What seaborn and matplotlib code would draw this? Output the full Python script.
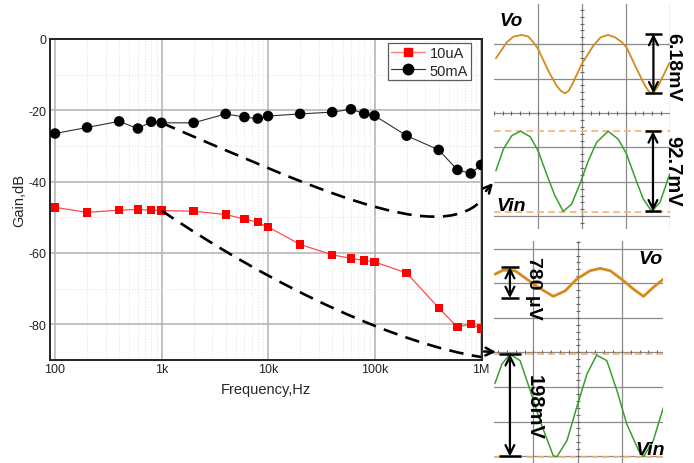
import numpy as np
import pandas as pd
import matplotlib
matplotlib.use("Agg")
import matplotlib.pyplot as plt
import seaborn as sns
from matplotlib.lines import Line2D
from matplotlib.path import Path
from matplotlib.patches import PathPatch, FancyArrowPatch

# ---------------- data ----------------
freq_hz = [100, 200, 400, 600, 800, 1e3, 2e3, 4e3, 6e3, 8e3, 1e4, 2e4, 4e4, 6e4, 8e4,
           1e5, 2e5, 4e5, 6e5, 8e5, 1e6]
gain_10uA = [-47.2, -48.6, -48.0, -47.8, -48.0, -48.1, -48.3, -49.2, -50.5, -51.4, -52.7,
             -57.6, -60.5, -61.5, -62.1, -62.5, -65.6, -75.4, -80.8, -79.9, -81.2]
gain_50mA = [-26.5, -24.8, -23.1, -25.1, -23.2, -23.5, -23.5, -21.0, -21.9, -22.3, -21.6,
             -21.0, -20.5, -19.7, -20.9, -21.5, -27.1, -31.1, -36.7, -37.7, -35.3]
series_names = ["10uA", "50mA"]
x_ticks = [100, 1e3, 1e4, 1e5, 1e6]
x_tick_labels = ["100", "1k", "10k", "100k", "1M"]
y_ticks = [0, -20, -40, -60, -80]
y_tick_labels = ["0", "-20", "-40", "-60", "-80"]

# oscilloscope traces, in screen divisions
top_vo_x = [0.05, 0.30, 0.45, 0.64, 0.79, 0.90, 1.01, 1.24, 1.43, 1.53, 1.62, 1.70, 1.77, 2.00,
            2.26, 2.43, 2.60, 2.76, 2.91, 3.02, 3.25, 3.44, 3.52, 3.58, 3.66, 3.74, 4.00]
top_vo_y = [1.59, 2.06, 2.22, 2.27, 2.22, 2.06, 1.86, 1.23, 0.79, 0.64, 0.57, 0.64, 0.79, 1.42,
            1.95, 2.20, 2.27, 2.20, 2.06, 1.91, 1.28, 0.79, 0.64, 0.57, 0.64, 0.79, 1.47]
top_vin_x = [0.05, 0.22, 0.41, 0.61, 0.83, 1.01, 1.20, 1.39, 1.58, 1.77, 1.96, 2.15, 2.34,
             2.60, 2.83, 3.02, 3.21, 3.40, 3.59, 3.78, 4.00]
top_vin_y = [-1.68, -1.05, -0.66, -0.53, -0.69, -1.10, -1.77, -2.40, -2.86, -2.65, -2.06,
             -1.39, -0.85, -0.53, -0.76, -1.19, -1.87, -2.50, -2.86, -2.60, -1.77]
bot_vo_x = [0.13, 0.32, 0.59, 0.85, 1.11, 1.45, 1.72, 1.98, 2.28, 2.51, 2.74, 3.04, 3.26,
            3.49, 3.71, 3.94]
bot_vo_y = [2.26, 2.38, 2.36, 2.12, 1.88, 1.62, 1.78, 2.12, 2.36, 2.43, 2.36, 2.07, 1.83,
            1.62, 1.88, 2.12]
bot_vin_x = [0.13, 0.29, 0.47, 0.70, 0.93, 1.15, 1.45, 1.53, 1.76, 1.98, 2.21, 2.43, 2.66,
             2.89, 3.11, 3.38, 3.49, 3.71, 3.94]
bot_vin_y = [-0.90, -0.34, -0.05, -0.24, -1.11, -1.98, -2.99, -3.02, -2.55, -1.59, -0.63,
             -0.08, -0.24, -1.11, -2.07, -2.84, -3.02, -2.55, -1.59]
top_labels = ["6.18mV", "92.7mV"]
bot_labels = ["780 \u03bcV", "198mV"]

# ---------------- style ----------------
sns.set_theme(style="white")
plt.rcParams["font.family"] = ["Liberation Sans", "DejaVu Sans"]

W, H = 694, 464
fig = plt.figure(figsize=(W / 100, H / 100), dpi=100)

def fx(px):
    return px / W

def fy(py):
    return 1 - py / H

ax = fig.add_axes([fx(50), fy(361), fx(432), 321 / H])
ax.set_xscale("log")
ax.set_xlim(89.7, 1.02e6)
ax.set_ylim(-90, 0)

n = len(freq_hz)
df = pd.DataFrame({
    "freq": freq_hz * 2,
    "gain": gain_10uA + gain_50mA,
    "series": [series_names[0]] * n + [series_names[1]] * n,
})
d1 = df[df.series == "10uA"]
d2 = df[df.series == "50mA"]

# grid
major_c, minor_c = "#b2b2b2", "#e3e3e3"
ax.set_xticks(x_ticks)
ax.set_xticklabels(x_tick_labels)
ax.set_yticks(y_ticks)
ax.set_yticklabels(y_tick_labels)
ax.set_xticks([m * 10 ** k for k in range(2, 6) for m in range(2, 10)], minor=True)
ax.set_yticks([-10, -30, -50, -70], minor=True)
ax.grid(True, which="major", color=major_c, lw=1.1, ls="-")
ax.grid(True, which="minor", color=minor_c, lw=0.7, ls=(0, (1.2, 1.8)))
ax.set_axisbelow(True)
ax.tick_params(which="both", length=0, labelsize=9, pad=2.5, colors="#222222")

sns.lineplot(data=d1, x="freq", y="gain", color="#ff4a4a", lw=0.9, ax=ax,
             estimator=None, sort=False, legend=False)
sns.lineplot(data=d2, x="freq", y="gain", color="#303030", lw=0.8, ax=ax,
             estimator=None, sort=False, legend=False)
sns.scatterplot(data=d1, x="freq", y="gain", marker="s", color="#ff0000", s=36,
                edgecolor="none", ax=ax, legend=False, zorder=4)
sns.scatterplot(data=d2, x="freq", y="gain", marker="o", color="#000000", s=58,
                edgecolor="none", ax=ax, legend=False, zorder=4)

ax.set_xlabel("Frequency,Hz", fontsize=10.5, labelpad=4.5)
ax.set_ylabel("Gain,dB", fontsize=10.5, labelpad=1.5)
for s in ax.spines.values():
    s.set_visible(True)
    s.set_color("#222222")
    s.set_linewidth(1.4)

handles = [
    Line2D([], [], color="#ff8080", lw=1.0, marker="s", ms=6, mfc="#ff0000", mec="#ff0000"),
    Line2D([], [], color="#303030", lw=0.8, marker="o", ms=7.5, mfc="#000000", mec="#000000"),
]
leg = ax.legend(handles, series_names, loc="upper right", bbox_to_anchor=(0.9745, 0.9875),
                borderaxespad=0, fontsize=10.5, frameon=True, fancybox=False,
                handlelength=2.3, handletextpad=0.35, labelspacing=0.25, borderpad=0.2)
leg.get_frame().set_edgecolor("#333333")
leg.get_frame().set_linewidth(0.9)

# ---------------- oscilloscope panels ----------------
grid_c = "#8a8a8a"
vo_c, vin_c, ref_c = "#d68a1c", "#3a9e2f", "#f7b36e"

def scope(axs, xlim, ylim, xgrid, ygrid, cx):
    axs.set_xlim(*xlim)
    axs.set_ylim(*ylim)
    axs.axis("off")
    for gx in xgrid:
        axs.axvline(gx, color=grid_c, lw=0.9, zorder=1)
    for gy in ygrid:
        axs.axhline(gy, color=grid_c, lw=0.9, zorder=1)
    tx = np.arange(np.ceil(xlim[0] * 5) / 5, xlim[1], 0.2)
    axs.plot(tx, np.zeros_like(tx), ls="none", marker="|", ms=3.5, mew=0.8, color="#666666")
    ty = np.arange(np.ceil(ylim[0] * 5) / 5, ylim[1], 0.2)
    axs.plot(np.full_like(ty, cx), ty, ls="none", marker="_", ms=3.5, mew=0.8, color="#666666")

def meas(axs, x, y1, y2, half):
    axs.add_patch(FancyArrowPatch((x, y1), (x, y2), arrowstyle="<->", mutation_scale=16,
                                  lw=1.6, color="black", shrinkA=0, shrinkB=0, zorder=6))
    for y in (y1, y2):
        axs.plot([x - half, x + half], [y, y], color="black", lw=1.8, zorder=6,
                 solid_capstyle="butt")

bold = dict(fontweight="bold", color="black")

# top panel
a1 = fig.add_axes([fx(493.7), fy(230), fx(176), 225 / H])
scope(a1, (0, 4), (-3.372, 3.169), [1, 2, 3, 4], [2, 1, 0, -1, -2, -3], 2)
for yv in (-0.53, -2.89):
    a1.axhline(yv, color=ref_c, lw=1.2, ls=(0, (4, 2.5)), zorder=2)
a1.plot(top_vo_x, top_vo_y, color=vo_c, lw=1.3, zorder=3)
a1.plot(top_vin_x, top_vin_y, color=vin_c, lw=1.1, zorder=3)
meas(a1, 3.63, 2.30, 0.57, 0.19)
meas(a1, 3.62, -0.53, -2.86, 0.19)
a1.text(4.06, 1.36, top_labels[0], rotation=-90, ha="center", va="center", fontsize=14,
        clip_on=False, **bold)
a1.text(4.06, -1.67, top_labels[1], rotation=-90, ha="center", va="center", fontsize=14.5,
        clip_on=False, **bold)
a1.text(0.13, 2.70, "Vo", ha="left", va="center", fontsize=13.5, style="italic", **bold)
a1.text(0.06, -2.68, "Vin", ha="left", va="center", fontsize=14, style="italic", **bold)

# bottom panel
a2 = fig.add_axes([fx(494), 0, fx(169), 222.3 / H])
scope(a2, (0.11, 3.93), (-3.20, 3.23), [1, 2, 3], [3, 2, 1, 0, -1, -2, -3], 2)
for yv in (-0.05, -3.03):
    a2.axhline(yv, color=ref_c, lw=1.2, ls=(0, (4, 2.5)), zorder=2)
a2.plot(bot_vo_x, bot_vo_y, color=vo_c, lw=2.0, zorder=3)
a2.plot(bot_vin_x, bot_vin_y, color=vin_c, lw=1.1, zorder=3)
meas(a2, 0.47, 2.47, 1.57, 0.2)
meas(a2, 0.47, -0.05, -3.01, 0.25)
a2.text(1.0, 1.88, bot_labels[0], rotation=-90, ha="center", va="center", fontsize=14,
        clip_on=False, **bold)
a2.text(1.03, -1.55, bot_labels[1], rotation=-90, ha="center", va="center", fontsize=14.5,
        clip_on=False, **bold)
a2.text(3.93, 2.71, "Vo", ha="right", va="center", fontsize=14, style="italic", **bold)
a2.text(3.97, -2.80, "Vin", ha="right", va="center", fontsize=14, style="italic", **bold)

# ---------------- dashed pointer curves ----------------
to_fig = fig.transFigure.inverted()

def data_to_fig(x, y):
    return tuple(to_fig.transform(ax.transData.transform((x, y))))

def curve(p0, ctrl, tip_from, tip_to):
    pts = [p0] + [(fx(a), fy(b)) for a, b in ctrl]
    path = Path(pts, [Path.MOVETO, Path.CURVE4, Path.CURVE4, Path.CURVE4])
    fig.add_artist(PathPatch(path, transform=fig.transFigure, fill=False, lw=1.9,
                             ls=(0, (5.5, 3.2)), edgecolor="black", capstyle="butt"))
    fig.add_artist(FancyArrowPatch((fx(tip_from[0]), fy(tip_from[1])),
                                   (fx(tip_to[0]), fy(tip_to[1])),
                                   transform=fig.transFigure, arrowstyle="->",
                                   mutation_scale=14, lw=1.8, color="black",
                                   shrinkA=0, shrinkB=0))

curve(data_to_fig(1e3, gain_50mA[5]), [(310, 187), (436, 247), (481, 202)],
      (486, 192), (493, 184))
curve(data_to_fig(1e3, gain_10uA[5]), [(280, 292), (400, 345), (481, 358)],
      (484, 352.5), (496, 353))

fig.savefig("out.png", dpi=100)
